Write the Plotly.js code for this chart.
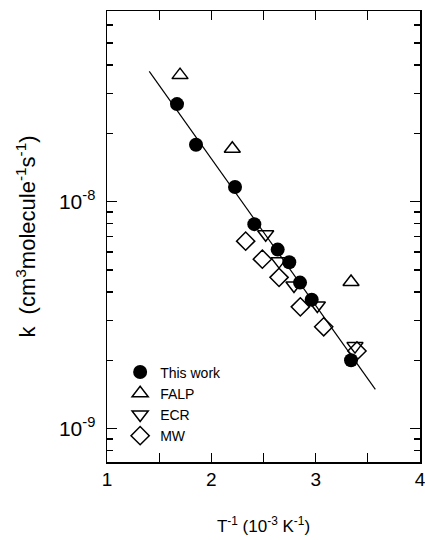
<!DOCTYPE html>
<html>
<head>
<meta charset="utf-8">
<script src="https://cdn.plot.ly/plotly-3.0.1.min.js"></script>
<style>html,body{margin:0;padding:0;background:#fff;}#chart{width:425px;height:540px;}</style>
</head>
<body>
<div id="chart"></div>
<script>
// "This work" (filled circles)
const thisWorkX = [1.671, 1.853, 2.227, 2.412, 2.636, 2.747, 2.850, 2.962, 3.339];
const thisWorkY = [2.69e-8, 1.78e-8, 1.16e-8, 7.96e-9, 6.15e-9, 5.41e-9, 4.40e-9, 3.70e-9, 2.00e-9];
// FALP (open up-triangles)
const falpX = [1.700, 2.201, 3.339];
const falpY = [3.61e-8, 1.71e-8, 4.43e-9];
// ECR (open down-triangles)
const ecrX = [2.521, 2.649, 2.792, 3.016, 3.377];
const ecrY = [7.18e-9, 5.47e-9, 4.27e-9, 3.49e-9, 2.31e-9];
// MW (open diamonds)
const mwX = [2.329, 2.489, 2.649, 2.853, 3.077, 3.396];
const mwY = [6.70e-9, 5.58e-9, 4.64e-9, 3.44e-9, 2.81e-9, 2.20e-9];
// Fit line
const fitX = [1.405, 3.572];
const fitY = [3.75e-8, 1.49e-9];
// Tick labels
const xTickVals = [1, 2, 3, 4];
const xTickText = ['1', '2', '3', '4'];
const yTickVals = [1e-9, 1e-8];
const yTickText = ['10<sup>-9</sup>', '10<sup>-8</sup>'];

const minorVals = [];
[-10, -9, -8].forEach(function (e) {
  for (let m = 2; m <= 9; m++) minorVals.push(m * Math.pow(10, e));
});

const FONT = 'Liberation Sans, Arial, Helvetica, sans-serif';

const traces = [
  { x: fitX, y: fitY, mode: 'lines', line: { color: '#000', width: 1.2 }, showlegend: false, hoverinfo: 'skip' },
  { x: thisWorkX, y: thisWorkY, mode: 'markers', name: 'This work',
    marker: { symbol: 'circle', size: 14, color: '#000' } },
  { x: falpX, y: falpY, mode: 'markers', name: 'FALP',
    marker: { symbol: 'triangle-up-open', size: 14, color: '#000', line: { width: 1.5, color: '#000' } } },
  { x: ecrX, y: ecrY, mode: 'markers', name: 'ECR',
    marker: { symbol: 'triangle-down-open', size: 14, color: '#000', line: { width: 1.5, color: '#000' } } },
  { x: mwX, y: mwY, mode: 'markers', name: 'MW',
    marker: { symbol: 'diamond-open', size: 14, color: '#000', line: { width: 1.5, color: '#000' } } }
];

const layout = {
  width: 425, height: 540,
  margin: { l: 107, r: 5, t: 11, b: 78 },
  paper_bgcolor: '#fff', plot_bgcolor: '#fff',
  font: { family: FONT, color: '#000' },
  showlegend: true,
  legend: {
    x: 0.042, y: 0.234, xanchor: 'left', yanchor: 'top',
    bgcolor: 'rgba(0,0,0,0)', borderwidth: 0,
    font: { size: 14, family: FONT, color: '#000' }
  },
  xaxis: {
    range: [1, 4], tickmode: 'array', tickvals: xTickVals, ticktext: xTickText,
    ticks: 'inside', ticklen: 9, tickwidth: 1.3, tickcolor: '#000',
    minor: { ticks: 'inside', ticklen: 9, tickwidth: 1.3, tickcolor: '#000', dtick: 0.5, showgrid: false },
    showline: true, linewidth: 1.5, linecolor: '#000', mirror: 'ticks',
    showgrid: false, zeroline: false,
    tickfont: { size: 19, family: FONT },
    ticklabelstandoff: 0,
    ticklabeloverflow: 'allow',
    title: { text: 'T<sup>-1</sup> (10<sup>-3</sup> K<sup>-1</sup>)', font: { size: 17, family: FONT }, standoff: 31 }
  },
  yaxis: {
    type: 'log', range: [-9.147, -7.160], tickmode: 'array', tickvals: yTickVals, ticktext: yTickText,
    ticks: 'inside', ticklen: 10, tickwidth: 1.3, tickcolor: '#000',
    minor: { ticks: 'inside', ticklen: 6, tickwidth: 1.3, tickcolor: '#000', tickvals: minorVals, showgrid: false },
    showline: true, linewidth: 1.5, linecolor: '#000', mirror: 'ticks',
    showgrid: false, zeroline: false,
    tickfont: { size: 21, family: FONT },
    ticklabelstandoff: 6,
    ticklabeloverflow: 'allow',
    title: { text: 'k  (cm<sup>3</sup>molecule<sup>-1</sup>s<sup>-1</sup>)', font: { size: 22, family: FONT }, standoff: 17 }
  }
};

Plotly.newPlot('chart', traces, layout, { displayModeBar: false, staticPlot: true });
</script>
</body>
</html>
